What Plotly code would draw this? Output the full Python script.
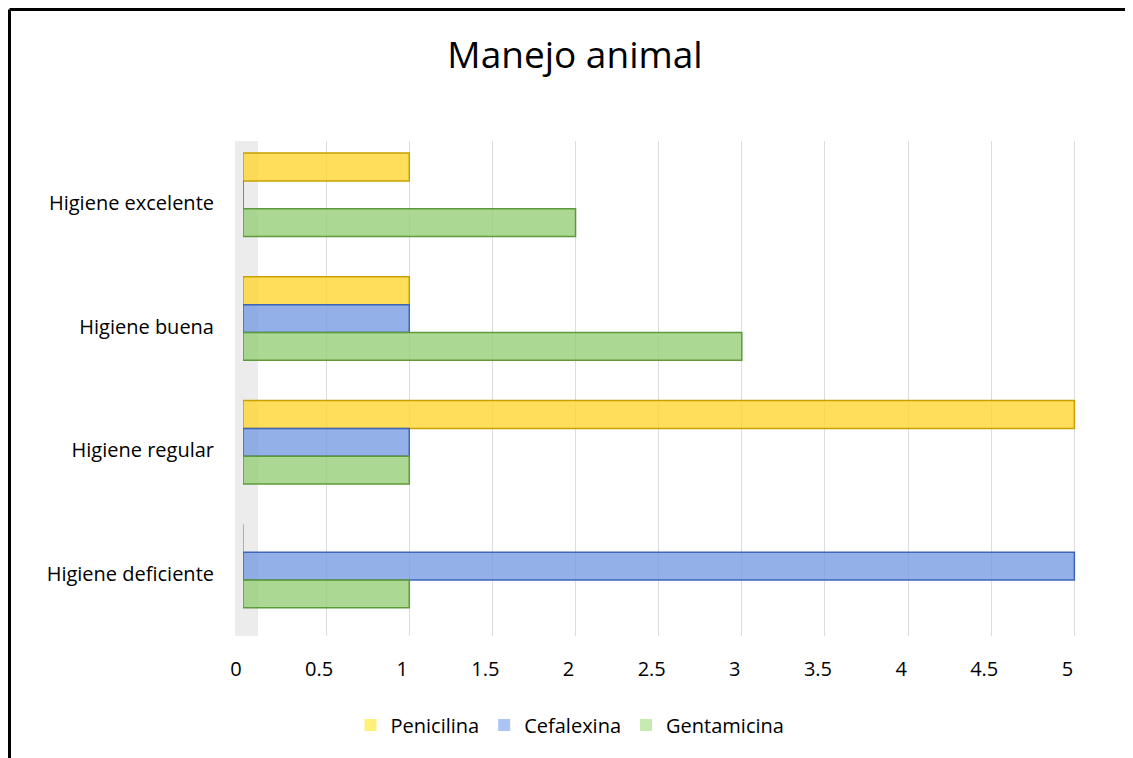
import plotly.graph_objects as go

categories = ["Higiene excelente", "Higiene buena", "Higiene regular", "Higiene deficiente"]
series_names = ["Penicilina", "Cefalexina", "Gentamicina"]
penicilina = [1, 1, 5, 0]
cefalexina = [0, 1, 1, 5]
gentamicina = [2, 3, 1, 1]
x_ticks = [0, 0.5, 1, 1.5, 2, 2.5, 3, 3.5, 4, 4.5, 5]
x_tick_labels = ["0", "0.5", "1", "1.5", "2", "2.5", "3", "3.5", "4", "4.5", "5"]

values = [penicilina, cefalexina, gentamicina]
fills = ["rgba(255,214,51,0.8)", "rgba(120,156,226,0.8)", "rgba(150,206,120,0.8)"]
lines = ["#C9A000", "#3E66B8", "#5E9A3A"]
legend_fills = ["#FFF07A", "#A9C4F5", "#C5EBB0"]

# page body has an 8px margin, so the figure is laid out 8px smaller
W, H = 1125, 750
ML, MR, MT, MB = 235, 42, 133, 122
pw, ph = W - ML - MR, H - MT - MB

bar_w = 0.225
group_shift = -0.065
offsets = [group_shift - 1.5 * bar_w + i * bar_w for i in range(3)]

fig = go.Figure()
for i, name in enumerate(series_names):
    fig.add_trace(go.Bar(
        y=categories, x=values[i], orientation="h", name=name,
        width=bar_w, offset=offsets[i],
        marker=dict(color=fills[i], line=dict(color=lines[i], width=1.5)),
        showlegend=False,
    ))
    # legend swatch
    fig.add_trace(go.Bar(
        y=[None], x=[None], orientation="h", name=name,
        marker=dict(color=legend_fills[i], line=dict(width=0)),
        showlegend=True,
    ))

font = "'Open Sans', 'Noto Sans', sans-serif"
fig.update_layout(
    width=W, height=H,
    margin=dict(l=ML, r=MR, t=MT, b=MB),
    paper_bgcolor="white", plot_bgcolor="white",
    font=dict(family=font, size=20, color="#000000"),
    title=dict(text="Manejo animal", font=dict(size=37, family=font, color="#000000"),
               x=567 / W, xref="container", xanchor="center",
               y=1 - 47 / H, yref="container", yanchor="middle"),
    barmode="group",
    showlegend=True,
    legend=dict(orientation="h", xref="container", x=562 / W, xanchor="center",
                yref="container", y=1 - 717 / H, yanchor="middle",
                font=dict(size=20), itemwidth=30, traceorder="normal"),
    xaxis=dict(range=[0, 5.1], tickvals=x_ticks, ticktext=x_tick_labels,
               showgrid=True, gridcolor="#DDDDDD", gridwidth=1,
               zeroline=False, showline=False, ticks="",
               ticklabelstandoff=19, ticklabelshift=-7, fixedrange=True),
    yaxis=dict(categoryorder="array", categoryarray=categories, autorange="reversed",
               showgrid=False, zeroline=False, showline=False, ticks="",
               ticklabelstandoff=28, fixedrange=True),
)

# outer chart border (left and top edges visible)
bx = (1.5 - ML) / pw
by = (H - MB - 1.5) / ph
fig.add_shape(type="line", xref="paper", yref="paper", x0=bx, x1=bx, y0=by, y1=-(MB + 20) / ph,
              line=dict(color="black", width=3))
fig.add_shape(type="line", xref="paper", yref="paper", x0=bx, x1=(W + 20 - ML) / pw, y0=by, y1=by,
              line=dict(color="black", width=3))
# left wall of the plot
fig.add_shape(type="rect", xref="paper", yref="paper", x0=(227 - ML) / pw, x1=(250 - ML) / pw,
              y0=0, y1=1, fillcolor="rgba(200,200,200,0.35)", line=dict(width=0), layer="below")

fig.write_html("out.html")
